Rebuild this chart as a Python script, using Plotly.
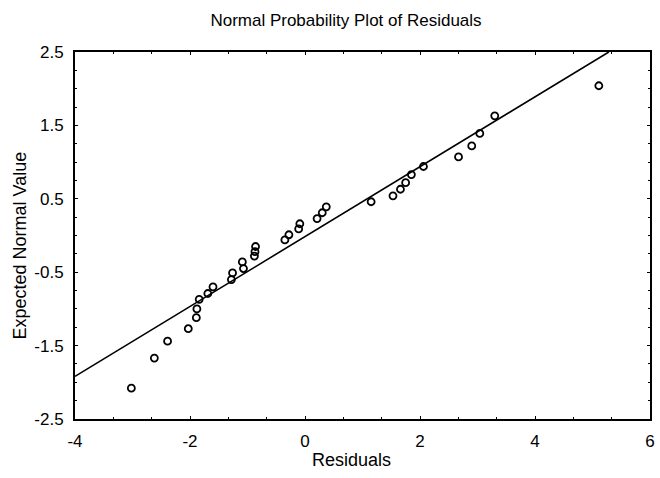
import plotly.graph_objects as go

# Data
residuals = [-3.02, -2.62, -2.39, -2.03, -1.89, -1.88, -1.84, -1.69, -1.60,
             -1.28, -1.26, -1.07, -1.09, -0.88, -0.87, -0.86, -0.35,
             -0.28, -0.11, -0.09, 0.21, 0.30, 0.37, 1.15, 1.53, 1.66,
             1.75, 1.85, 2.06, 2.67, 2.90, 3.04, 3.30, 5.11]
expected_normal = [-2.08, -1.67, -1.44, -1.27, -1.12, -1.00, -0.87, -0.79, -0.70,
                   -0.60, -0.51, -0.45, -0.36, -0.28, -0.22, -0.15, -0.06,
                   0.01, 0.09, 0.16, 0.23, 0.31, 0.39, 0.46, 0.54, 0.63,
                   0.72, 0.83, 0.94, 1.07, 1.22, 1.39, 1.63, 2.04]
line_slope = 0.476
line_intercept = -0.015
x_range = [-4, 6]
y_range = [-2.5, 2.5]
x_ticks = [-4, -2, 0, 2, 4, 6]
x_tick_text = ["-4", "-2", "0", "2", "4", "6"]
y_ticks = [-2.5, -1.5, -0.5, 0.5, 1.5, 2.5]
y_tick_text = ["-2.5", "-1.5", "-0.5", "0.5", "1.5", "2.5"]

FONT = "Liberation Sans, Arial, sans-serif"

x_end = (y_range[1] - line_intercept) / line_slope
line_x = [x_range[0], x_end]
line_y = [line_intercept + line_slope * v for v in line_x]

fig = go.Figure()
fig.add_trace(go.Scatter(x=line_x, y=line_y, mode="lines",
                         line=dict(color="black", width=1.6),
                         hoverinfo="skip", showlegend=False))
fig.add_trace(go.Scatter(x=residuals, y=expected_normal, mode="markers",
                         marker=dict(symbol="circle-open", size=7,
                                     color="black", line=dict(width=1.8, color="black")),
                         showlegend=False))

axis_common = dict(showline=True, linecolor="black", linewidth=2, mirror="ticks",
                   showgrid=False, zeroline=False, ticks="inside", ticklen=3,
                   tickcolor="black", tickwidth=1, ticklabeloverflow="allow",
                   tickfont=dict(family=FONT, size=17, color="black"))

fig.update_xaxes(range=x_range, tickvals=x_ticks, ticktext=x_tick_text,
                 ticklabelstandoff=6,
                 minor=dict(ticks="inside", ticklen=2, tick0=-4, dtick=2/3,
                            tickcolor="black", tickwidth=1),
                 **axis_common)
fig.update_yaxes(range=y_range, tickvals=y_ticks, ticktext=y_tick_text,
                 ticklabelstandoff=6,
                 minor=dict(ticks="inside", ticklen=2, tick0=-2.5, dtick=0.25,
                            tickcolor="black", tickwidth=1),
                 **axis_common)

PLOT_W = 660 - 75 - 5
fig.update_layout(
    width=660, height=478,
    margin=dict(l=75, r=5, t=52, b=59),
    plot_bgcolor="white", paper_bgcolor="white",
    font=dict(family=FONT, size=17, color="black"),
    title=dict(text="Normal Probability Plot of Residuals",
               xref="container", yref="container",
               x=346/660, y=1-20/478, xanchor="center", yanchor="middle",
               font=dict(family=FONT, size=17, color="black")),
    annotations=[
        dict(text="Residuals", xref="paper", yref="paper",
             x=(354-75)/PLOT_W, y=(419-460)/367, xanchor="center", yanchor="middle",
             showarrow=False, font=dict(family=FONT, size=18, color="black")),
        dict(text="Expected Normal Value", xref="paper", yref="paper",
             x=(20-75)/PLOT_W, y=(419-245)/367, xanchor="center", yanchor="middle",
             textangle=-90, showarrow=False,
             font=dict(family=FONT, size=18, color="black")),
    ],
)

fig.write_html("out.html",
               config={"displayModeBar": False},
               post_script="document.body.style.margin='0';document.body.style.overflow='hidden';")
